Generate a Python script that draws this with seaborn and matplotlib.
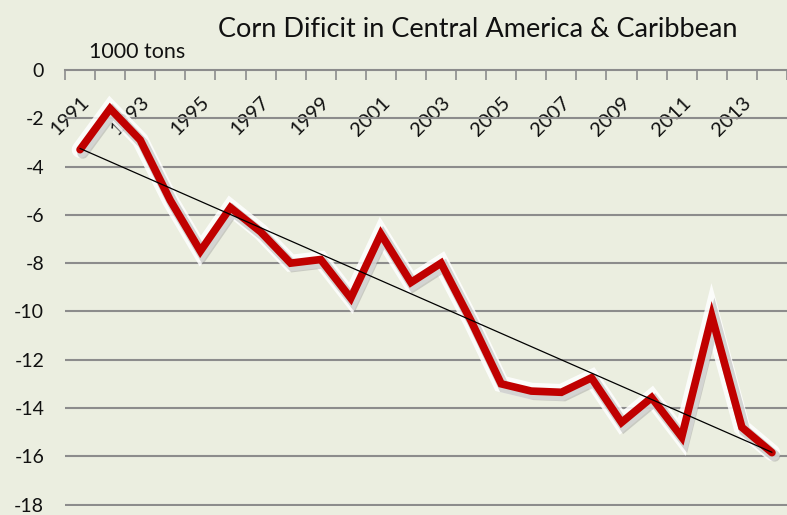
import matplotlib
matplotlib.use("Agg")
import matplotlib.pyplot as plt
import matplotlib.patheffects as pe
import seaborn as sns
import numpy as np
import pandas as pd

years = list(range(1991, 2015))
deficit = [-3.3, -1.6, -2.9, -5.4, -7.5, -5.7, -6.7, -8.0, -7.85, -9.45,
           -6.8, -8.8, -8.0, -10.4, -13.0, -13.3, -13.35, -12.75, -14.6, -13.57,
           -15.2, -10.2, -14.8, -15.85]
ytick_vals = [0, -2, -4, -6, -8, -10, -12, -14, -16, -18]
xtick_years = list(range(1991, 2014, 2))

title = "Corn Dificit in Central America & Caribbean"
unit_label = "1000 tons"

bg = "#EBEEE0"
grid_c = "#8C8C8C"

sns.set_theme(style="white")
plt.rcParams["font.family"] = ["Lato", "DejaVu Sans"]
plt.rcParams["axes.unicode_minus"] = False

df = pd.DataFrame({"idx": np.arange(len(years)), "year": years, "v": deficit})

fig = plt.figure(figsize=(7.87, 5.15), dpi=100, facecolor=bg)
W, H = 787, 515
left_px, top_px, bottom_px = 65, 70, 506
ax = fig.add_axes([left_px / W, 1 - bottom_px / H, (W - left_px) / W, (bottom_px - top_px) / H])
ax.set_facecolor(bg)

# gridlines
for yv in ytick_vals[1:]:
    ax.axhline(yv, color=grid_c, lw=1.5, zorder=1)

# trend line (linear regression)
sns.regplot(data=df, x="idx", y="v", scatter=False, ci=None, truncate=True,
            line_kws=dict(color="black", lw=0.9, zorder=4), ax=ax)

# main line
sns.lineplot(data=df, x="idx", y="v", color="#C00000", lw=5.5, ax=ax, zorder=3,
             solid_joinstyle="miter", legend=False)
line = ax.lines[-1]
line.set_path_effects([
    pe.Stroke(linewidth=12, foreground="white", alpha=0.85),
    pe.SimpleLineShadow(offset=(2, -2.5), shadow_color="#8a8a8a", alpha=0.35, linewidth=8),
    pe.Normal(),
])

n = len(years)
ax.set_xlim(-0.5, -0.5 + (W - left_px) / 30.4)
ax.set_ylim(-18.06, 0)

for s in ["left", "right", "top"]:
    ax.spines[s].set_visible(False)
ax.spines["bottom"].set_position(("data", 0))
ax.spines["bottom"].set_color(grid_c)
ax.spines["bottom"].set_linewidth(1.5)

major_pos = [years.index(y) for y in xtick_years]
ax.set_xticks(major_pos)
ax.set_xticklabels([str(y) for y in xtick_years], rotation=45, ha="right",
                   va="top", rotation_mode="anchor", fontsize=14.5, color="#111111")
ax.set_xticks(np.arange(-0.5, n + 0.5, 1), minor=True)
ax.tick_params(axis="x", which="major", length=0, pad=17)
ax.tick_params(axis="x", which="minor", length=7, width=1.2, color=grid_c, direction="out", bottom=True)

ax.set_yticks(ytick_vals)
ax.set_yticklabels([str(v) for v in ytick_vals], fontsize=14, color="#111111")
ax.tick_params(axis="y", length=0, pad=15)
ax.set_xlabel("")
ax.set_ylabel("")

fig.text(478 / W, 1 - 37 / H, title, ha="center", va="baseline", fontsize=19.5, color="#111111")
fig.text(89 / W, 1 - 58 / H, unit_label, ha="left", va="baseline", fontsize=15.5, color="#111111")

fig.savefig("out.png", dpi=100, facecolor=bg)
